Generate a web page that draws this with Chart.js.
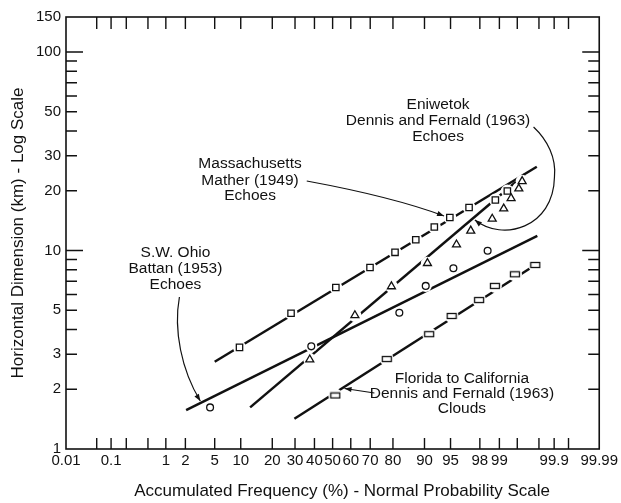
<!DOCTYPE html>
<html>
<head>
<meta charset="utf-8">
<script src="https://cdn.jsdelivr.net/npm/chart.js@4.4.1/dist/chart.umd.min.js"></script>
<style>
  html, body { margin: 0; padding: 0; background: #fff; }
  #wrap { width: 621px; height: 503px; }
</style>
</head>
<body>
<div id="wrap"><canvas id="chart" width="621" height="503"></canvas></div>
<script>
// Massachusetts - Mather (1949) echoes
const massPct = [9.7, 28.1, 51.8, 69.9, 80.8, 87.7, 92.2, 94.9, 97.15, 98.84, 99.26];
const massKm = [3.25, 4.83, 6.51, 8.21, 9.79, 11.33, 13.13, 14.66, 16.47, 17.96, 19.94];
const massFitPct = [5.0, 99.78];
const massFitKm = [2.75, 26.4];

// Eniwetok - Dennis and Fernald (1963) echoes
const eniPct = [37.5, 62.2, 79.4, 90.7, 95.8, 97.3, 98.7, 99.15, 99.36, 99.53, 99.59];
const eniKm = [2.82, 4.71, 6.59, 8.63, 10.7, 12.57, 14.44, 16.24, 18.32, 20.48, 22.32];
const eniFitPct = [12.5, 99.63];
const eniFitKm = [1.62, 24.15];

// S.W. Ohio - Battan (1953) echoes
const ohioPct = [4.37, 38.3, 82.4, 90.3, 95.4, 98.47];
const ohioKm = [1.62, 3.29, 4.86, 6.63, 8.14, 9.97];
const ohioFitPct = [2.05, 99.785];
const ohioFitKm = [1.57, 11.83];

// Florida to California - Dennis and Fernald (1963) clouds
const flaPct = [51.5, 77.5, 91.1, 95.16, 97.95, 98.82, 99.45, 99.765];
const flaKm = [1.86, 2.84, 3.79, 4.68, 5.63, 6.63, 7.59, 8.45];
const flaFitPct = [29.7, 99.765];
const flaFitKm = [1.42, 8.45];

// axes
const xLabels = [0.01, 0.1, 1, 2, 5, 10, 20, 30, 40, 50, 60, 70, 80, 90, 95, 98, 99, 99.9, 99.99];
const xMarks = [0.05, 0.1, 0.2, 0.5, 1, 2, 5, 10, 20, 30, 40, 50, 60, 70, 80, 90, 95, 98, 99, 99.5, 99.8, 99.9, 99.95];
const yLabels = [1, 2, 3, 5, 10, 20, 30, 50, 100, 150];
const yMarks = [2, 3, 4, 5, 6, 7, 8, 9, 10, 20, 30, 40, 50, 60, 70, 80, 90, 100];

// inverse normal cdf (Acklam)
function probit(p) {
    const a = [-39.69683028665376, 220.9460984245205, -275.9285104469687, 138.3577518672690, -30.66479806614716, 2.506628277459239];
    const b = [-54.47609879822406, 161.5858368580409, -155.6989798598866, 66.80131188771972, -13.28068155288572];
    const c = [-0.007784894002430293, -0.3223964580411365, -2.400758277161838, -2.549732539343734, 4.374664141464968, 2.938163982698783];
    const d = [0.007784695709041462, 0.3224671290700398, 2.445134137142996, 3.754408661907416];
    const lo = 0.02425;
    let q, r;
    if (p < lo) {
        q = Math.sqrt(-2 * Math.log(p));
        return (((((c[0]*q+c[1])*q+c[2])*q+c[3])*q+c[4])*q+c[5]) / ((((d[0]*q+d[1])*q+d[2])*q+d[3])*q+1);
    }
    if (p > 1 - lo) {
        q = Math.sqrt(-2 * Math.log(1 - p));
        return -(((((c[0]*q+c[1])*q+c[2])*q+c[3])*q+c[4])*q+c[5]) / ((((d[0]*q+d[1])*q+d[2])*q+d[3])*q+1);
    }
    q = p - 0.5; r = q * q;
    return (((((a[0]*r+a[1])*r+a[2])*r+a[3])*r+a[4])*r+a[5])*q / (((((b[0]*r+b[1])*r+b[2])*r+b[3])*r+b[4])*r+1);
}

function normCdf(z) {
    const t = 1 / (1 + 0.3275911 * Math.abs(z) / Math.SQRT2);
    const e = 1 - (((((1.061405429*t - 1.453152027)*t) + 1.421413741)*t - 0.284496736)*t + 0.254829592)*t * Math.exp(-z*z/2);
    return z >= 0 ? (1 + e) / 2 : (1 - e) / 2;
}

// normal probability scale (values in %)
class ProbabilityScale extends Chart.Scale {
    determineDataLimits() {
        this.min = this.options.min;
        this.max = this.options.max;
    }
    buildTicks() {
        return xLabels.map(v => ({ value: v }));
    }
    configure() {
        super.configure();
        this._startValue = probit(this.min / 100);
        this._valueRange = probit(this.max / 100) - this._startValue;
    }
    getLabelForValue(v) {
        return String(v);
    }
    getPixelForValue(v) {
        return this.getPixelForDecimal((probit(v / 100) - this._startValue) / this._valueRange);
    }
    getValueForPixel(px) {
        return 100 * normCdf(this._startValue + this.getDecimalForPixel(px) * this._valueRange);
    }
}
ProbabilityScale.id = 'probability';
ProbabilityScale.defaults = {};
Chart.register(ProbabilityScale);

function pts(xs, ys) {
    return xs.map((v, i) => ({ x: v, y: ys[i] }));
}

// open wide rectangle used for the Florida clouds
const flaMark = document.createElement('canvas');
flaMark.width = 12; flaMark.height = 8;
{
    const c = flaMark.getContext('2d');
    c.fillStyle = '#fff';
    c.fillRect(1, 1.5, 10, 5);
    c.strokeStyle = '#111';
    c.lineWidth = 1.3;
    c.strokeRect(1.5, 1.5, 9, 5);
}

const ink = '#111';

function fitLine(xs, ys) {
    return { data: pts(xs, ys), showLine: true, borderColor: ink, borderWidth: 2.5, pointRadius: 0, order: 3 };
}
function halo(xs, ys, r) {
    return { data: pts(xs, ys), showLine: false, pointStyle: 'circle', pointRadius: r, pointBorderWidth: 0, pointBackgroundColor: '#fff', order: 2 };
}
function marks(xs, ys, style, r) {
    return { data: pts(xs, ys), showLine: false, pointStyle: style, pointRadius: r, pointBorderWidth: 1.3, pointBorderColor: ink, pointBackgroundColor: '#fff', order: 1 };
}

// texts and arrows, given in reference pixels
const notes = [
    { lines: ['Massachusetts', 'Mather (1949)', 'Echoes'], x: 251, y: [164, 180.5, 196] },
    { lines: ['Eniwetok', 'Dennis and Fernald (1963)', 'Echoes'], x: 440, y: [105, 121, 136.5] },
    { lines: ['S.W. Ohio', 'Battan (1953)', 'Echoes'], x: 176, y: [253, 269, 284.5] },
    { lines: ['Florida to California', 'Dennis and Fernald (1963)', 'Clouds'], x: 464, y: [378.5, 394, 409] }
];

const notesPlugin = {
    id: 'notes',
    afterDatasetsDraw(chart) {
        const { ctx, chartArea: a } = chart;
        const X = v => a.left + (v - 66) / 536 * a.width;
        const Y = v => a.top + (v - 17) / 432 * a.height;
        ctx.save();
        ctx.fillStyle = ink;
        ctx.strokeStyle = ink;
        ctx.font = '15.5px "Liberation Sans", Arial, sans-serif';
        ctx.textAlign = 'center';
        ctx.textBaseline = 'middle';
        notes.forEach(n => n.lines.forEach((t, i) => ctx.fillText(t, X(n.x), Y(n.y[i]))));

        ctx.lineWidth = 1.2;
        const head = (tx, ty, fx, fy) => {
            const ang = Math.atan2(Y(ty) - Y(fy), X(tx) - X(fx));
            ctx.beginPath();
            ctx.moveTo(X(tx), Y(ty));
            ctx.lineTo(X(tx) - 7 * Math.cos(ang) + 2.6 * Math.sin(ang), Y(ty) - 7 * Math.sin(ang) - 2.6 * Math.cos(ang));
            ctx.lineTo(X(tx) - 7 * Math.cos(ang) - 2.6 * Math.sin(ang), Y(ty) - 7 * Math.sin(ang) + 2.6 * Math.cos(ang));
            ctx.closePath();
            ctx.fill();
        };
        // Massachusetts
        ctx.beginPath();
        ctx.moveTo(X(308), Y(181));
        ctx.quadraticCurveTo(X(395), Y(197), X(446), Y(216));
        ctx.stroke();
        head(446, 216, 395, 197);
        // Eniwetok
        ctx.beginPath();
        ctx.moveTo(X(536), Y(127));
        ctx.bezierCurveTo(X(550), Y(140), X(559), Y(158), X(557), Y(177));
        ctx.bezierCurveTo(X(556), Y(228), X(505), Y(242), X(477), Y(220));
        ctx.stroke();
        head(477, 220, 505, 242);
        // S.W. Ohio
        ctx.beginPath();
        ctx.moveTo(X(180), Y(297));
        ctx.bezierCurveTo(X(174), Y(330), X(182), Y(370), X(201), Y(401));
        ctx.stroke();
        head(201, 401, 182, 370);
        // Florida
        ctx.beginPath();
        ctx.moveTo(X(376), Y(393));
        ctx.lineTo(X(346), Y(388.5));
        ctx.stroke();
        head(346, 388.5, 376, 393);
        ctx.restore();
    }
};

// frame with inward ticks on all four sides
const framePlugin = {
    id: 'frame',
    afterDraw(chart) {
        const { ctx, chartArea: a, scales: { x, y } } = chart;
        ctx.save();
        ctx.strokeStyle = ink;
        ctx.lineWidth = 1.6;
        ctx.strokeRect(a.left, a.top, a.width, a.height);
        ctx.lineWidth = 1.4;
        ctx.beginPath();
        xMarks.forEach(v => {
            const px = x.getPixelForValue(v);
            ctx.moveTo(px, a.bottom); ctx.lineTo(px, a.bottom - 11);
            ctx.moveTo(px, a.top); ctx.lineTo(px, a.top + 12);
        });
        yMarks.forEach(v => {
            const py = y.getPixelForValue(v);
            const len = (v === 10 || v === 100) ? 17 : 11;
            ctx.moveTo(a.left, py); ctx.lineTo(a.left + len, py);
            ctx.moveTo(a.right, py); ctx.lineTo(a.right - len, py);
        });
        ctx.stroke();
        ctx.restore();
    }
};

const tickFont = { family: '"Liberation Sans Narrow", "Liberation Sans", Arial, sans-serif', size: 15 };

new Chart(document.getElementById('chart'), {
    type: 'scatter',
    data: {
        datasets: [
            fitLine(massFitPct, massFitKm),
            fitLine(eniFitPct, eniFitKm),
            fitLine(ohioFitPct, ohioFitKm),
            fitLine(flaFitPct, flaFitKm),
            halo(massPct, massKm, 6.5),
            halo(eniPct, eniKm, 6.5),
            halo(ohioPct, ohioKm, 6),
            halo(flaPct, flaKm, 7),
            marks(massPct, massKm, 'rect', 4.5),
            marks(eniPct, eniKm, 'triangle', 4.6),
            marks(ohioPct, ohioKm, 'circle', 3.4),
            marks(flaPct, flaKm, flaMark, 4)
        ]
    },
    options: {
        responsive: false,
        animation: false,
        layout: { padding: { top: 17, right: 19, left: 0, bottom: 0 } },
        plugins: { legend: { display: false }, tooltip: { enabled: false } },
        scales: {
            x: {
                type: 'probability',
                position: 'bottom',
                min: 0.01,
                max: 99.99,
                grid: { display: false, drawTicks: false },
                border: { display: false },
                ticks: { color: ink, font: tickFont, padding: 3, autoSkip: false, maxRotation: 0, callback: v => String(v) },
                title: {
                    display: true,
                    text: '    Accumulated Frequency (%) - Normal Probability Scale',
                    color: ink,
                    font: { family: '"Liberation Sans", Arial, sans-serif', size: 17 },
                    padding: { top: 0, bottom: 1 }
                },
                afterFit: s => { s.height = 54; }
            },
            y: {
                type: 'logarithmic',
                min: 1,
                max: 150,
                grid: { display: false, drawTicks: false },
                border: { display: false },
                afterBuildTicks: s => { s.ticks = yLabels.map(v => ({ value: v })); },
                ticks: { color: ink, font: tickFont, padding: 5, autoSkip: false, callback: v => String(v) },
                title: {
                    display: true,
                    text: 'Horizontal Dimension (km) - Log Scale',
                    color: ink,
                    font: { family: '"Liberation Sans", Arial, sans-serif', size: 17 },
                    padding: { top: 8, bottom: 0 }
                },
                afterFit: s => { s.width = 66; }
            }
        }
    },
    plugins: [notesPlugin, framePlugin]
});
</script>
</body>
</html>
